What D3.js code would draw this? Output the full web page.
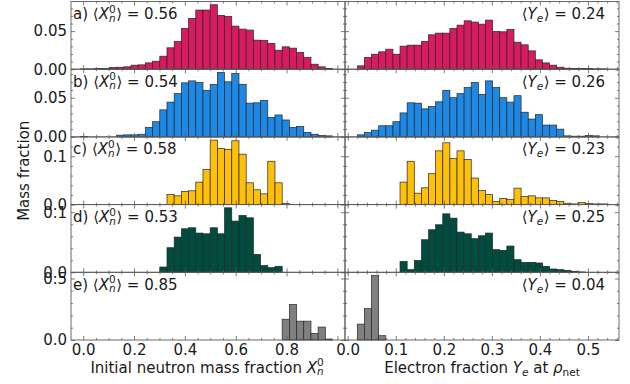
<!DOCTYPE html>
<html><head><meta charset="utf-8">
<script src="https://cdn.jsdelivr.net/npm/d3@7"></script>
<style>
body{margin:0;background:#fff}
svg{display:block}
text{font-family:'DejaVu Sans',sans-serif;white-space:pre}
</style></head>
<body><svg id="c" width="630" height="384"></svg>
<script>
// ---------------- data ----------------
const rowLetters = ['a)', 'b)', 'c)', 'd)', 'e)'];
const meanXn = ['0.56', '0.54', '0.58', '0.53', '0.85'];
const meanYe = ['0.24', '0.26', '0.23', '0.25', '0.04'];
const rowColors = ['#D81B60', '#1E88E5', '#FFC107', '#004D40', '#808080'];

// histogram bins (left: initial neutron mass fraction, right: electron fraction)
const xnBinStart = -0.0102, xnBinWidth = 0.02832;
const yeBinStart = 0.0200, yeBinWidth = 0.01482;

const xnA = [0.0004,0.0004,0.0009,0.0009,0.0022,0.0026,0.0031,0.0053,0.0057,0.0083,0.0105,0.0171,0.0281,0.0364,0.0535,0.0667,0.0777,0.0777,0.0847,0.0707,0.0693,0.0566,0.0527,0.0514,0.0382,0.0378,0.0338,0.0250,0.0294,0.0277,0.0220,0.0154,0.0066,0.0031,0.0009];
const xnB = [0.0004,0,0,0,0,0.0022,0.0026,0.0026,0.0034,0.0121,0.0194,0.0345,0.0444,0.0552,0.0690,0.0715,0.0694,0.0595,0.0668,0.0823,0.0703,0.0810,0.0672,0.0431,0.0435,0.0465,0.0250,0.0280,0.0216,0.0121,0.0134,0.0056,0.0034,0.0017,0.0013];
const xnC = [0,0,0,0,0,0,0,0,0,0,0,0,0.0208,0.0181,0.0271,0.0285,0.0465,0.0729,0.1333,0.1160,0.1139,0.1319,0.1042,0.0451,0.0306,0.0222,0.0896,0.0451,0.0021,0,0,0,0,0,0];
const xnD = [0,0,0,0,0,0,0,0,0,0,0,0.0088,0.0409,0.0586,0.0724,0.0741,0.0653,0.0641,0.0741,0.0641,0.1073,0.0852,0.0946,0.0907,0.0299,0.0111,0.0077,0.0100,0,0,0,0,0,0,0];
const xnE = [0,0,0,0,0,0,0,0,0,0,0,0,0,0,0,0,0,0,0,0,0,0,0,0,0,0,0,0,0.169,0.288,0.153,0.153,0.054,0.105,0.008];

const yeA = [0.0044,0.0154,0.0197,0.0228,0.0263,0.0197,0.0303,0.0316,0.0316,0.0364,0.0452,0.0474,0.0474,0.0535,0.0579,0.0636,0.0619,0.0592,0.0645,0.0496,0.0491,0.0522,0.0355,0.0320,0.0241,0.0123,0.0083,0.0053,0.0026,0.0013,0.0009,0.0009,0.0009,0.0004,0.0004];
const yeB = [0.0026,0.0056,0.0086,0.0142,0.0142,0.0194,0.0306,0.0435,0.0431,0.0358,0.0388,0.0448,0.0595,0.0500,0.0552,0.0629,0.0694,0.0543,0.0715,0.0629,0.0500,0.0444,0.0526,0.0315,0.0228,0.0284,0.0151,0.0151,0.0099,0.0013,0.0009,0.0009,0.0017,0.0013,0];
const yeC = [0,0,0,0,0,0,0.0465,0.0896,0.0236,0.0347,0.0639,0.1111,0.1278,0.0951,0.1111,0.0931,0.0549,0.0292,0.0208,0.0063,0.0125,0.0104,0.0340,0.0167,0.0181,0.0139,0.0139,0.0083,0.0063,0.0028,0.0014,0.0042,0.0021,0.0014,0.0014];
const yeD = [0,0,0,0,0,0,0.0182,0.0044,0.0199,0.0542,0.0708,0.0791,0.0973,0.0901,0.0669,0.0641,0.0559,0.0608,0.0653,0.0376,0.0365,0.0437,0.0210,0.0166,0.0166,0.0155,0.0100,0.0055,0.0044,0.0033,0.0017,0.0006,0,0,0];
const yeE = [0.129,0.255,0.524,0.035,0,0,0,0,0,0,0,0,0,0,0,0,0,0,0,0,0,0,0,0,0,0,0,0,0,0,0,0,0,0,0];

const xnSeries = [xnA, xnB, xnC, xnD, xnE];
const yeSeries = [yeA, yeB, yeC, yeD, yeE];

// tick labels
const yMajorTicks = [[0, 0.05], [0, 0.05], [0, 0.1], [0, 0.1], [0, 0.5]];
const yTickLabels = [['0.00','0.05'], ['0.00','0.05'], ['0.0','0.1'], ['0.0','0.1'], ['0.0','0.5']];
const yMinorStep = [0.01, 0.01, 0.02, 0.02, 0.1];
const xnMajorTicks = [0, 0.2, 0.4, 0.6, 0.8, 1.0];
const xnTickLabels = ['0.0', '0.2', '0.4', '0.6', '0.8', ''];
const xnMinorStep = 0.05;
const yeMajorTicks = [0, 0.1, 0.2, 0.3, 0.4, 0.5];
const yeTickLabels = ['0.0', '0.1', '0.2', '0.3', '0.4', '0.5'];
const yeMinorStep = 0.02;

// ---------------- layout ----------------
const FS = 15;
const TXT = '#1a1a1a', AX = '#5a5a5a';
const svg = d3.select('#c');
const plotTop = 1.5, plotBottom = 340;
const nRows = 5, rowH = (plotBottom - plotTop) / nRows;
const xLeft = d3.scaleLinear().domain([-0.048, 1.03]).range([71, 345]);
const xRight = d3.scaleLinear().domain([-0.0056, 0.5646]).range([345, 619]);

function minorTicks(domain, step, majors) {
  const lo = Math.ceil(domain[0] / step - 1e-9), hi = Math.floor(domain[1] / step + 1e-9);
  const out = [];
  for (let i = lo; i <= hi; i++) {
    const v = +(i * step).toFixed(6);
    if (!majors.some(m => Math.abs(m - v) < 1e-9)) out.push(v);
  }
  return out;
}

function mathText(parent, x, y, parts, anchor) {
  const g = parent.append('g');
  let cx = 0, prevStart = 0;
  parts.forEach(p => {
    const fs = p.scr ? FS * 0.7 : FS;
    const sx = (p.stack ? prevStart : cx) + (p.gap || 0);
    const t = g.append('text').attr('x', sx).attr('y', p.dy || 0)
      .attr('font-size', fs).attr('fill', TXT)
      .attr('font-style', p.it ? 'italic' : 'normal').text(p.t);
    const w = t.node().getComputedTextLength();
    if (p.stack) cx = Math.max(cx, sx + w);
    else { prevStart = sx; cx = sx + w; }
  });
  let ox = x;
  if (anchor === 'end') ox = x - cx;
  else if (anchor === 'middle') ox = x - cx / 2;
  g.attr('transform', `translate(${ox},${y})`);
  return g;
}

function drawPanel(row, xs, data, binStart, binW, ymax, isLeft) {
  const top = plotTop + row * rowH, bottom = top + rowH;
  const ys = d3.scaleLinear().domain([0, ymax]).range([bottom, top]);
  const g = svg.append('g');
  const [x0, x1] = xs.range();

  g.selectAll('rect.bar').data(data.map((v, k) => ({v, k})).filter(d => d.v > 0))
    .join('rect').attr('class', 'bar')
    .attr('x', d => xs(binStart + d.k * binW))
    .attr('width', d => xs(binStart + (d.k + 1) * binW) - xs(binStart + d.k * binW))
    .attr('y', d => ys(d.v))
    .attr('height', d => ys(0) - ys(d.v))
    .attr('fill', rowColors[row])
    .attr('stroke', '#262626').attr('stroke-width', 0.7);

  const xMaj = isLeft ? xnMajorTicks : yeMajorTicks;
  const xLab = isLeft ? xnTickLabels : yeTickLabels;
  const xMin = minorTicks(xs.domain(), isLeft ? xnMinorStep : yeMinorStep, xMaj);
  const yMaj = yMajorTicks[row];
  const yMin = minorTicks([0, ymax], yMinorStep[row], yMaj);

  function styleAxis(sel) {
    sel.attr('font-size', FS).attr('font-family', "'DejaVu Sans',sans-serif").attr('color', AX);
    sel.select('.domain').remove();
    sel.selectAll('text').attr('fill', TXT);
    sel.selectAll('line').attr('stroke-width', 0.8);
  }
  const bottomRow = row === nRows - 1;
  g.append('g').attr('transform', `translate(0,${bottom})`)
    .call(d3.axisBottom(xs).tickValues(xMaj).tickSize(-4).tickPadding(4.5)
      .tickFormat((d, i) => bottomRow ? xLab[i] : '')).call(styleAxis);
  g.append('g').attr('transform', `translate(0,${bottom})`)
    .call(d3.axisBottom(xs).tickValues(xMin).tickSize(-2).tickFormat('')).call(styleAxis);
  g.append('g').attr('transform', `translate(0,${top})`)
    .call(d3.axisTop(xs).tickValues(xMaj).tickSize(-4).tickFormat('')).call(styleAxis);
  g.append('g').attr('transform', `translate(0,${top})`)
    .call(d3.axisTop(xs).tickValues(xMin).tickSize(-2).tickFormat('')).call(styleAxis);
  g.append('g').attr('transform', `translate(${x0},0)`)
    .call(d3.axisLeft(ys).tickValues(yMaj).tickSize(-4).tickPadding(4)
      .tickFormat((d, i) => isLeft ? yTickLabels[row][i] : '')).call(styleAxis);
  g.append('g').attr('transform', `translate(${x0},0)`)
    .call(d3.axisLeft(ys).tickValues(yMin).tickSize(-2).tickFormat('')).call(styleAxis);
  g.append('g').attr('transform', `translate(${x1},0)`)
    .call(d3.axisRight(ys).tickValues(yMaj).tickSize(-4).tickFormat('')).call(styleAxis);
  g.append('g').attr('transform', `translate(${x1},0)`)
    .call(d3.axisRight(ys).tickValues(yMin).tickSize(-2).tickFormat('')).call(styleAxis);

  g.append('rect').attr('x', x0).attr('y', top).attr('width', x1 - x0).attr('height', rowH)
    .attr('fill', 'none').attr('stroke', AX).attr('stroke-width', 0.9);

  if (isLeft) {
    mathText(g, x0 + 2, top + 17.5, [
      {t: rowLetters[row] + ' '}, {t: '⟨'}, {t: 'X', it: true},
      {t: 'n', it: true, scr: true, dy: 2.5}, {t: '0', scr: true, dy: -6.5, stack: true},
      {t: '⟩', gap: 0.5}, {t: ' = ' + meanXn[row]}], 'start');
  } else {
    mathText(g, x1 - 14, top + 17.5, [
      {t: '⟨'}, {t: 'Y', it: true}, {t: 'e', it: true, scr: true, dy: 3},
      {t: '⟩', gap: 0.5}, {t: ' = ' + meanYe[row]}], 'end');
  }
}

for (let r = 0; r < nRows; r++) {
  const ymax = 1.05 * Math.max(d3.max(xnSeries[r]), d3.max(yeSeries[r]));
  drawPanel(r, xLeft, xnSeries[r], xnBinStart, xnBinWidth, ymax, true);
  drawPanel(r, xRight, yeSeries[r], yeBinStart, yeBinWidth, ymax, false);
}

// axis titles
svg.append('text').attr('transform', `translate(29,${(plotTop + plotBottom) / 2}) rotate(-90)`)
  .attr('text-anchor', 'middle').attr('font-size', FS).attr('fill', TXT).text('Mass fraction');
mathText(svg, 207, 372.5, [
  {t: 'Initial neutron mass fraction '}, {t: 'X', it: true},
  {t: 'n', it: true, scr: true, dy: 2.5}, {t: '0', scr: true, dy: -6.5, stack: true}], 'middle');
mathText(svg, 482, 372.5, [
  {t: 'Electron fraction '}, {t: 'Y', it: true}, {t: 'e', it: true, scr: true, dy: 3},
  {t: ' at '}, {t: 'ρ', it: true}, {t: 'net', scr: true, dy: 3}], 'middle');
</script></body></html>
